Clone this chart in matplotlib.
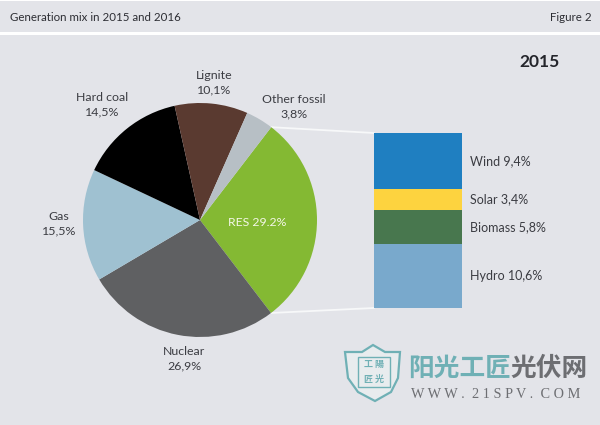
import matplotlib
matplotlib.use("Agg")
import matplotlib.pyplot as plt
from matplotlib.patches import ConnectionPatch, Polygon, Rectangle
import numpy as np

# generation mix values
mix_labels = ["RES", "Nuclear", "Gas", "Hard coal", "Lignite", "Other fossil"]
mix_values = [29.2, 26.9, 15.5, 14.5, 10.1, 3.8]
mix_colors = ["#84b933", "#5f6062", "#9fc1d1", "#000000", "#5a3a30", "#b7bfc5"]

res_labels = ["Wind", "Solar", "Biomass", "Hydro"]
res_values = [9.4, 3.4, 5.8, 10.6]
res_colors = ["#1f7fc1", "#fdd33f", "#48774e", "#79a9cc"]

BG = "#e3e4e9"
TXT = "#3b3c42"
W, H = 600, 425

plt.rcParams["font.family"] = ["Lato", "DejaVu Sans"]

fig = plt.figure(figsize=(W / 100, H / 100), dpi=100, facecolor="white")


def px_axes(x0, y0, x1, y1, **kw):
    # axes from pixel box, y measured from top
    return fig.add_axes([x0 / W, 1 - y1 / H, (x1 - x0) / W, (y1 - y0) / H], **kw)


# background in pixel coordinates
bg = px_axes(0, 0, W, H)
bg.set_xlim(0, W)
bg.set_ylim(H, 0)
bg.axis("off")
bg.add_patch(Rectangle((0, 1), W, 30.5, fc=BG, ec="none"))
bg.add_patch(Rectangle((0, 35), W, 390, fc=BG, ec="none"))

bg.text(10, 17, "Generation mix in 2015 and 2016", fontsize=8.3, color="#2c2d33", va="center")
bg.text(592, 17, "Figure 2", fontsize=8.3, color="#2c2d33", va="center", ha="right")
bg.text(540, 62, "2015", fontsize=12.5, fontweight="bold", color="#24252b", va="center", ha="center")

# pie
cx, cy, r = 200, 220, 117
pie_ax = px_axes(cx - r, cy - r, cx + r, cy + r)
start = 52.5
wedges, _ = pie_ax.pie(mix_values, colors=mix_colors, startangle=start, counterclock=False,
                       radius=1, wedgeprops=dict(linewidth=0))
pie_ax.set_xlim(-1, 1)
pie_ax.set_ylim(-1, 1)
pie_ax.patch.set_visible(False)
pie_ax.text(0.49, -0.02, "RES 29.2%", color="#f4f7e8", fontsize=8.8, ha="center", va="center")

# stacked bar, top of axes is zero
bar_ax = px_axes(374, 133, 462, 308)
bar_ax.set_xlim(0, 1)
bar_ax.set_ylim(sum(res_values), 0)
bar_ax.axis("off")
bottoms = np.concatenate([[0], np.cumsum(res_values)[:-1]])
bar_ax.bar([0.5] * 4, res_values, width=1, bottom=bottoms, color=res_colors, linewidth=0)

# labels round the pie
label_pos = {
    "Nuclear": (184, 359),
    "Gas": (59, 224),
    "Hard coal": (102, 104.5),
    "Lignite": (214, 83),
    "Other fossil": (294, 107),
}
for name, val in zip(mix_labels, mix_values):
    if name == "RES":
        continue
    x, y = label_pos[name]
    bg.text(x, y, f"{name}\n{str(val).replace('.', ',')}%", fontsize=8.9, color=TXT,
            ha="center", va="center", linespacing=1.4)

# bar labels follow segment centres
for name, val, b in zip(res_labels, res_values, bottoms):
    bar_ax.text(1.09, b + val / 2, f"{name} {str(val).replace('.', ',')}%", fontsize=9, color=TXT,
                va="center", ha="left", clip_on=False)

# white connector lines from pie edge to bar corners
a0 = np.deg2rad(start)
a1 = np.deg2rad(start - mix_values[0] * 3.6)
for ang, yb in ((a0, 0), (a1, sum(res_values))):
    fig.add_artist(ConnectionPatch((np.cos(ang), np.sin(ang)), (0, yb), "data", "data",
                                   axesA=pie_ax, axesB=bar_ax, color="#f7f8f9", lw=1.3, zorder=1))
bar_ax.set_zorder(3)
pie_ax.set_zorder(3)

# watermark
TEAL = "#6fb0b5"
GREY = "#6d6e72"
bg.add_patch(Polygon([(345, 352), (362, 352), (373, 345), (385, 352), (400, 352), (398, 378),
                      (391, 392), (375, 401), (358, 392), (348, 378)],
                     closed=True, fc="#e8ecee", ec=TEAL, lw=1.6))
bg.add_patch(Rectangle((358, 357), 32, 30, fc="none", ec=TEAL, lw=1))
cjk = ["Noto Sans CJK SC", "DejaVu Sans"]
bg.text(374, 364, "工 陽", family=cjk, fontsize=6.5, fontweight="bold", color=TEAL, ha="center", va="center")
bg.text(374, 379, "匠 光", family=cjk, fontsize=6.5, fontweight="bold", color=TEAL, ha="center", va="center")
bg.text(408, 368, "阳光工匠", family=cjk, fontsize=18.5, fontweight="bold", color=TEAL, ha="left", va="center")
bg.text(510, 368, "光伏网", family=cjk, fontsize=18.5, fontweight="bold", color=GREY, ha="left", va="center")
bg.text(411, 394, "W W W .  2 1 S P V .  C O M", family="Liberation Serif", fontsize=10.3, color=GREY,
        ha="left", va="center")

fig.savefig("out.png", dpi=100)
